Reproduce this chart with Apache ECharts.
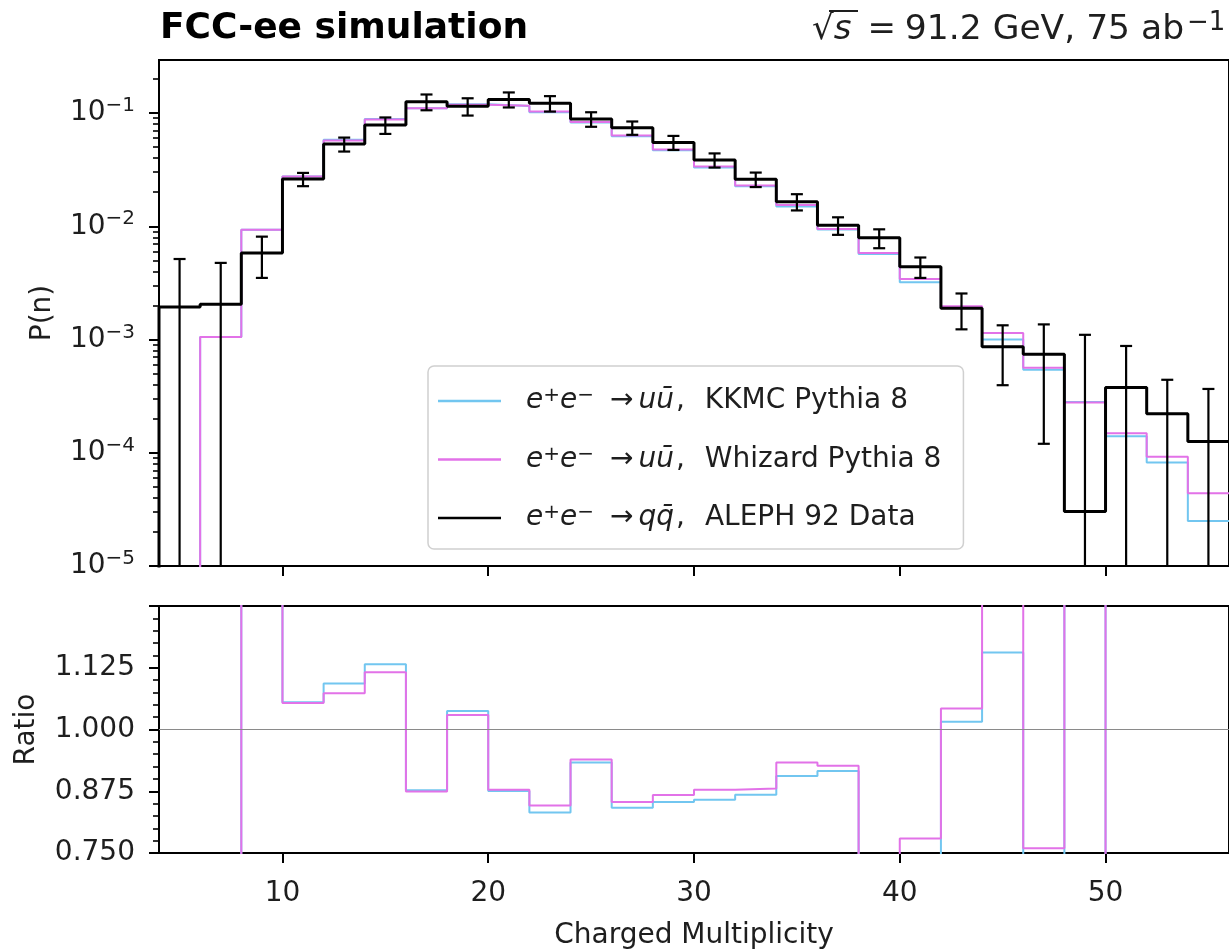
<!DOCTYPE html>
<html>
<head>
<meta charset="utf-8">
<script src="https://cdn.jsdelivr.net/npm/echarts@6/dist/echarts.min.js"></script>
<style>
  html, body { margin: 0; padding: 0; background: #fff; }
  #chart { width: 1229px; height: 951px; }
</style>
</head>
<body>
<div id="chart"></div>
<script>
// Charged multiplicity bins (edges), FCC-ee Z-pole simulation vs ALEPH data
const binEdges = [4, 6, 8, 10, 12, 14, 16, 18, 20, 22, 24, 26, 28, 30, 32, 34, 36, 38, 40, 42, 44, 46, 48, 50, 52, 54, 56];

// ALEPH 92 data: P(n) per bin and its uncertainty
const alephP = [0.00194, 0.00205, 0.0058, 0.0261, 0.0532, 0.0784, 0.1258, 0.115, 0.132, 0.122, 0.0886, 0.0742, 0.055,
  0.0385, 0.026, 0.0165, 0.0102, 0.0079, 0.0044, 0.00189, 0.000865, 0.00074, 0.0000303, 0.000377, 0.000221, 0.000126];
const alephErr = [0.0032, 0.0027, 0.0023, 0.0035, 0.0075, 0.013, 0.02, 0.02, 0.02, 0.019, 0.013, 0.01, 0.0078,
  0.0055, 0.0038, 0.0027, 0.0018, 0.0015, 0.0009, 0.00066, 0.00047, 0.00062, 0.00107, 0.0005, 0.00022, 0.00024];

// Simulated P(n) (null = empty bin)
const kkmcP = [null, 0.00105, 0.0093, 0.02754, 0.05815, 0.08875, 0.1103, 0.1193, 0.1156, 0.1015, 0.08266, 0.06244, 0.04694,
  0.03303, 0.02257, 0.01495, 0.009343, 0.0057, 0.0032, 0.00192, 0.001, 0.00054, 0.00028, 0.00014, 0.000082, 0.000025];
const whizardP = [null, 0.00105, 0.0093, 0.0275, 0.0571, 0.0875, 0.110, 0.1184, 0.1159, 0.1032, 0.0832, 0.0633, 0.0477,
  0.0338, 0.0229, 0.0154, 0.00945, 0.0058, 0.00343, 0.00197, 0.00114, 0.000562, 0.000278, 0.000149, 0.000092, 0.000044];

// Tick labels
const xTicks = [10, 20, 30, 40, 50];
const logTicks = [1e-5, 1e-4, 1e-3, 1e-2, 1e-1];
const ratioTicks = [0.75, 0.875, 1.0, 1.125];

const FONT = '"DejaVu Sans", "Noto Sans", sans-serif';
const TXT = '#1e1e1e';
const C_KKMC = '#72c6f0';
const C_WHIZ = '#e272e8';
const BASE = 1e-9;          // stair baseline, far below the visible range
const P_MIN = 1e-5, P_MAX = 0.294;

// minor ticks of the log axis: 2..9 x each decade
const logMinor = [];
logTicks.forEach(d => {
  for (let k = 2; k <= 9; k++) { if (k * d <= P_MAX) logMinor.push(k * d); }
});

function stairs(values) {
  const pts = [];
  let started = false;
  for (let i = 0; i < values.length; i++) {
    const v = values[i];
    if (v == null) continue;
    if (!started) { pts.push([binEdges[i], BASE]); started = true; }
    pts.push([binEdges[i], v]);
  }
  pts.push([binEdges[values.length], values[values.length - 1]]);
  return pts;
}

function ratioStairs(mc) {
  const pts = [];
  for (let i = 0; i < mc.length; i++) {
    if (mc[i] == null) continue;
    pts.push([binEdges[i], mc[i] / alephP[i]]);
  }
  const last = mc.length - 1;
  pts.push([binEdges[mc.length], mc[last] / alephP[last]]);
  return pts;
}

const errData = alephP.map((v, i) => [(binEdges[i] + binEdges[i + 1]) / 2, v, alephErr[i]]);

function renderErr(params, api) {
  const x = api.value(0), y = api.value(1), e = api.value(2);
  const lowOk = y - e > 0;
  const top = api.coord([x, y + e]);
  const bot = api.coord([x, lowOk ? y - e : BASE]);
  const cap = 6;
  const style = { stroke: '#000', lineWidth: 2.2, fill: null };
  const children = [
    { type: 'line', shape: { x1: top[0], y1: top[1], x2: bot[0], y2: bot[1] }, style },
    { type: 'line', shape: { x1: top[0] - cap, y1: top[1], x2: top[0] + cap, y2: top[1] }, style }
  ];
  if (lowOk) children.push({ type: 'line', shape: { x1: bot[0] - cap, y1: bot[1], x2: bot[0] + cap, y2: bot[1] }, style });
  return { type: 'group', children };
}

const NAME_KKMC = 'KKMC';
const NAME_WHIZ = 'Whizard';
const NAME_DATA = 'ALEPH';
const legendText = {
  KKMC: '{i0|e}{sup|+}{i|e}{sup|−}{ar|→}{i|uū}{cm|,}{t|KKMC Pythia 8}',
  Whizard: '{i0|e}{sup|+}{i|e}{sup|−}{ar|→}{i|uū}{cm|,}{t|Whizard Pythia 8}',
  ALEPH: '{i0|e}{sup|+}{i|e}{sup|−}{ar|→}{i|qq̄}{cm|,}{t|ALEPH 92 Data}'
};

const GL = 159, GW = 1073;
const chart = echarts.init(document.getElementById('chart'), null, { renderer: 'canvas' });

const tickStyle = { color: '#000', width: 2 };
const baseLabel = { color: TXT, fontFamily: FONT, fontSize: 28 };
const txt28 = { color: TXT, fontFamily: FONT, fontSize: 28, lineHeight: 30 };

chart.setOption({
  animation: false,
  backgroundColor: '#fff',
  grid: [
    { left: GL, top: 60, width: GW, height: 506, show: true, borderColor: '#000', borderWidth: 2, backgroundColor: 'transparent' },
    { left: GL, top: 606, width: GW, height: 252, show: true, borderColor: '#000', borderWidth: 2, backgroundColor: 'transparent' }
  ],
  xAxis: [
    {
      type: 'value', gridIndex: 0, min: 4, max: 56,
      axisLine: { show: false },
      axisTick: { show: true, length: 10, lineStyle: tickStyle, customValues: xTicks },
      axisLabel: { show: false, customValues: xTicks },
      splitLine: { show: false }
    },
    {
      type: 'value', gridIndex: 1, min: 4, max: 56,
      axisLine: { show: false },
      axisTick: { show: true, length: 10, lineStyle: tickStyle, customValues: xTicks },
      axisLabel: Object.assign({ margin: 27, customValues: xTicks }, baseLabel),
      splitLine: { show: false },
      name: 'Charged Multiplicity', nameLocation: 'middle', nameGap: 69,
      nameTextStyle: { color: TXT, fontFamily: FONT, fontSize: 28 }
    }
  ],
  yAxis: [
    {
      type: 'log', logBase: 10, gridIndex: 0, min: P_MIN, max: P_MAX, position: 'left',
      axisLine: { show: false },
      axisTick: { show: true, length: 10, lineStyle: tickStyle, customValues: logTicks },
      axisLabel: {
        margin: 24, customValues: logTicks,
        formatter: v => '{b|10}{s|−' + Math.abs(Math.round(Math.log10(v))) + '}',
        rich: {
          b: { color: TXT, fontFamily: FONT, fontSize: 28, lineHeight: 34 },
          s: { color: TXT, fontFamily: FONT, fontSize: 20, verticalAlign: 'top', lineHeight: 22 }
        }
      },
      splitLine: { show: false },
      name: 'P(n)', nameLocation: 'middle', nameGap: 102, nameRotate: 90,
      nameTextStyle: { color: TXT, fontFamily: FONT, fontSize: 28 }
    },
    {
      type: 'log', logBase: 10, gridIndex: 0, min: P_MIN, max: P_MAX, position: 'left',
      axisLine: { show: false },
      axisTick: { show: true, length: 6, lineStyle: { color: '#000', width: 1.6 }, customValues: logMinor },
      axisLabel: { show: false },
      splitLine: { show: false }
    },
    {
      type: 'value', gridIndex: 1, min: 0.75, max: 1.25, interval: 0.125, position: 'left',
      axisLine: { show: false },
      axisTick: { show: true, length: 10, lineStyle: tickStyle },
      minorTick: { show: true, splitNumber: 5, length: 6, lineStyle: { color: '#000', width: 1.6 } },
      axisLabel: Object.assign({ margin: 24, formatter: v => (ratioTicks.indexOf(v) >= 0 ? v.toFixed(3) : '') }, baseLabel),
      splitLine: { show: false },
      name: 'Ratio', nameLocation: 'middle', nameGap: 118, nameRotate: 90,
      nameTextStyle: { color: TXT, fontFamily: FONT, fontSize: 28 }
    }
  ],
  legend: {
    left: 428, top: 366, orient: 'vertical',
    data: [
      { name: NAME_KKMC, icon: 'rect' },
      { name: NAME_WHIZ, icon: 'rect' },
      { name: NAME_DATA, icon: 'rect' }
    ],
    selectedMode: false,
    itemWidth: 63, itemHeight: 2.5, itemGap: 29.5,
    padding: [20, 22, 17, 10],
    backgroundColor: 'rgba(255,255,255,0.85)',
    borderColor: '#d0d0d0', borderWidth: 1.5, borderRadius: 6,
    formatter: name => legendText[name],
    textStyle: {
      color: TXT, fontFamily: FONT, fontSize: 28,
      rich: {
        t: txt28,
        i0: Object.assign({ fontStyle: 'italic', padding: [0, 0, 0, 20] }, txt28),
        i: Object.assign({ fontStyle: 'italic' }, txt28),
        ar: Object.assign({ padding: [0, 5, 0, 16] }, txt28),
        cm: Object.assign({ padding: [0, 20, 0, 2] }, txt28),
        sup: { color: TXT, fontFamily: FONT, fontSize: 20, verticalAlign: 'top', lineHeight: 20 }
      }
    }
  },
  graphic: [
    {
      type: 'text', x: 160, y: 29,
      style: { text: 'FCC-ee simulation', font: 'bold 36px ' + FONT, fill: '#000', verticalAlign: 'middle' }
    },
    {
      type: 'text', x: 812, y: 30,
      style: {
        text: '{r|√}{s|s}{eq|=}{n|91.2 GeV, 75 ab}{sup|−1}',
        verticalAlign: 'middle',
        rich: {
          r: { fontFamily: FONT, fontSize: 34, fill: TXT, lineHeight: 40 },
          s: { fontFamily: FONT, fontSize: 34, fontStyle: 'italic', fill: TXT, lineHeight: 40, padding: [0, 2, 0, 0] },
          eq: { fontFamily: FONT, fontSize: 34, fill: TXT, lineHeight: 40, padding: [0, 9, 0, 14] },
          n: { fontFamily: FONT, fontSize: 34.5, fill: TXT, lineHeight: 40 },
          sup: { fontFamily: FONT, fontSize: 26, fill: TXT, verticalAlign: 'top', lineHeight: 24, padding: [0, 0, 0, 3] }
        }
      }
    },
    {
      type: 'line', shape: { x1: 829, y1: 11, x2: 858, y2: 11 },
      style: { stroke: TXT, lineWidth: 2 }
    }
  ],
  series: [
    {
      name: NAME_KKMC, type: 'line', xAxisIndex: 0, yAxisIndex: 0, step: 'end', symbol: 'none', clip: true,
      data: stairs(kkmcP), lineStyle: { color: C_KKMC, width: 2 }, itemStyle: { color: C_KKMC }, z: 2
    },
    {
      name: NAME_WHIZ, type: 'line', xAxisIndex: 0, yAxisIndex: 0, step: 'end', symbol: 'none', clip: true,
      data: stairs(whizardP), lineStyle: { color: C_WHIZ, width: 2 }, itemStyle: { color: C_WHIZ }, z: 3
    },
    {
      name: NAME_DATA, type: 'line', xAxisIndex: 0, yAxisIndex: 0, step: 'end', symbol: 'none', clip: true,
      data: stairs(alephP), lineStyle: { color: '#000', width: 3 }, itemStyle: { color: '#000' }, z: 4
    },
    {
      name: 'errors', type: 'custom', xAxisIndex: 0, yAxisIndex: 0, clip: true,
      renderItem: renderErr, data: errData, z: 5
    },
    {
      name: 'ratioKKMC', type: 'line', xAxisIndex: 1, yAxisIndex: 2, step: 'end', symbol: 'none', clip: true,
      data: ratioStairs(kkmcP), lineStyle: { color: C_KKMC, width: 2 }, z: 2,
      markLine: {
        silent: true, symbol: ['none', 'none'], label: { show: false },
        lineStyle: { color: '#8a8a8a', width: 1.2, type: 'solid' },
        data: [{ yAxis: 1 }]
      }
    },
    {
      name: 'ratioWhizard', type: 'line', xAxisIndex: 1, yAxisIndex: 2, step: 'end', symbol: 'none', clip: true,
      data: ratioStairs(whizardP), lineStyle: { color: C_WHIZ, width: 2 }, z: 3
    }
  ]
});
</script>
</body>
</html>
